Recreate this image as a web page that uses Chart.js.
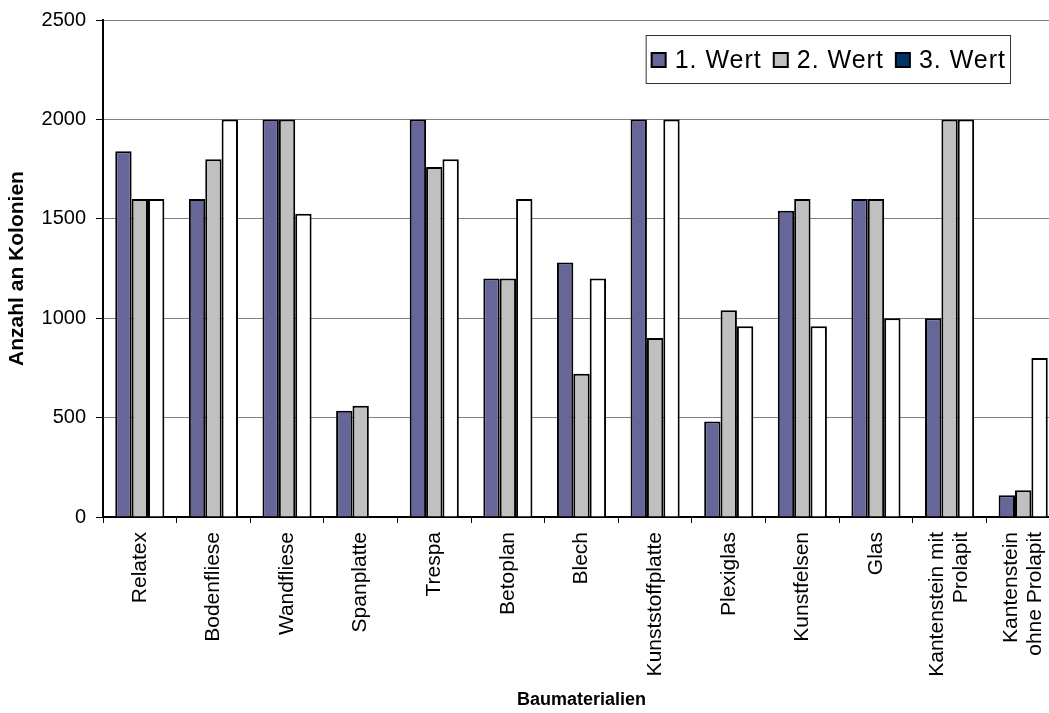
<!DOCTYPE html>
<html>
<head>
<meta charset="utf-8">
<script src="https://cdn.jsdelivr.net/npm/chart.js@4/dist/chart.umd.min.js"></script>
<style>
  html, body { margin: 0; padding: 0; background: #fff; overflow: hidden; }
  #chart { display: block; }
</style>
</head>
<body>
<canvas id="chart" width="1062" height="713"></canvas>
<script>
// Baumaterialien und gezählte Kolonien (drei Messwerte je Material)
const categories = [
  'Relatex', 'Bodenfliese', 'Wandfliese', 'Spanplatte', 'Trespa', 'Betoplan',
  'Blech', 'Kunststoffplatte', 'Plexiglas', 'Kunstfelsen', 'Glas',
  ['Kantenstein mit', 'Prolapit'], ['Kantenstein', 'ohne Prolapit']
];
const wert1 = [1840, 1600, 2000, 535, 2000, 1200, 1280, 2000, 480, 1540, 1600, 1000, 110];
const wert2 = [1600, 1800, 2000, 560, 1760, 1200, 720, 900, 1040, 1600, 1600, 2000, 135];
const wert3 = [1600, 2000, 1525, null, 1800, 1600, 1200, 2000, 960, 960, 1000, 2000, 800];
const seriesNames = ['1. Wert', '2. Wert', '3. Wert'];
const barColors = ['#666699', '#C0C0C0', '#FFFFFF'];
const legendColors = ['#666699', '#C0C0C0', '#003366'];

const FONT = 'Liberation Sans, Arial, sans-serif';

// Kategorieachse, die mehrzeilige gedrehte Beschriftungen mittig unter die Gruppe setzt
class CenteredCategoryScale extends Chart.CategoryScale {
  _computeLabelItems(chartArea) {
    const items = super._computeLabelItems(chartArea);
    items.forEach(item => {
      if (Array.isArray(item.label) && item.label.length > 1) {
        item.options.translation[0] -= (item.label.length - 1) * item.font.lineHeight / 2;
      }
    });
    return items;
  }
}
CenteredCategoryScale.id = 'centeredCategory';
CenteredCategoryScale.defaults = Chart.CategoryScale.defaults;
Chart.register(CenteredCategoryScale);

// Legende im Diagramm oben rechts mit Rahmen
const boxLegend = {
  id: 'boxLegend',
  afterDraw(chart) {
    const ctx = chart.ctx;
    const right = 1010, top = 35, bottom = 83;
    ctx.save();
    ctx.font = '25px ' + FONT;
    ctx.letterSpacing = '1px';
    const sq = 14, gapAfterSq = 9, gapItems = 12;
    const widths = chart.data.datasets.map(d => ctx.measureText(d.label).width);
    let total = 6;
    widths.forEach((w, i) => { total += sq + gapAfterSq + w + (i < widths.length - 1 ? gapItems : 0); });
    total += 4;
    const left = right - total;
    ctx.fillStyle = '#fff';
    ctx.fillRect(left, top, total, bottom - top);
    ctx.strokeStyle = '#333';
    ctx.lineWidth = 1;
    ctx.strokeRect(left + 0.5, top + 0.5, total, bottom - top);
    let x = left + 6;
    const cy = (top + bottom) / 2 + 1;
    chart.data.datasets.forEach((d, i) => {
      ctx.fillStyle = legendColors[i];
      ctx.fillRect(x, cy - sq / 2, sq, sq);
      ctx.strokeStyle = '#000';
      ctx.lineWidth = 2;
      ctx.strokeRect(x, cy - sq / 2, sq, sq);
      ctx.fillStyle = '#000';
      ctx.textBaseline = 'middle';
      ctx.fillText(d.label, x + sq + gapAfterSq, cy + 1);
      x += sq + gapAfterSq + widths[i] + gapItems;
    });
    ctx.restore();
  }
};

new Chart(document.getElementById('chart'), {
  type: 'bar',
  data: {
    labels: categories,
    datasets: [wert1, wert2, wert3].map((vals, i) => ({
      label: seriesNames[i],
      data: vals,
      backgroundColor: barColors[i],
      borderColor: '#000',
      borderWidth: 2,
      categoryPercentage: 0.667,
      barPercentage: 1
    }))
  },
  options: {
    responsive: false,
    animation: false,
    layout: { padding: { top: 20, right: 2, left: 0, bottom: 0 } },
    plugins: {
      legend: { display: false },
      tooltip: { enabled: false }
    },
    scales: {
      x: {
        type: 'centeredCategory',
        offset: true,
        grid: {
          offset: true,
          drawOnChartArea: false,
          drawTicks: true,
          tickLength: 6,
          color: '#000'
        },
        border: { color: '#000', width: 2 },
        ticks: {
          color: '#000',
          font: { family: FONT, size: 21, lineHeight: 1.15 },
          maxRotation: 90,
          minRotation: 90,
          autoSkip: false,
          padding: 9
        },
        title: {
          display: true,
          text: 'Baumaterialien',
          color: '#000',
          font: { family: FONT, size: 18, weight: 'bold' },
          padding: { top: 0, bottom: 2 }
        },
        afterFit(scale) {
          scale.height = 196;
          scale.paddingLeft = 0;
          scale.paddingRight = 0;
          scale.paddingTop = 0;
          scale.paddingBottom = 0;
        }
      },
      y: {
        min: 0,
        max: 2500,
        ticks: {
          stepSize: 500,
          color: '#000',
          font: { family: FONT, size: 20 },
          padding: 10,
          callback: v => String(v)
        },
        grid: {
          color: '#808080',
          lineWidth: 1,
          tickLength: 7,
          tickColor: '#000'
        },
        border: { color: '#000', width: 2 },
        title: {
          display: true,
          text: 'Anzahl an Kolonien',
          color: '#000',
          font: { family: FONT, size: 21, weight: 'bold' },
          padding: { top: 5, bottom: 0 }
        },
        afterFit(scale) {
          scale.width = 103;
          scale.paddingTop = 0;
          scale.paddingBottom = 0;
        }
      }
    }
  },
  plugins: [boxLegend]
});
</script>
</body>
</html>
